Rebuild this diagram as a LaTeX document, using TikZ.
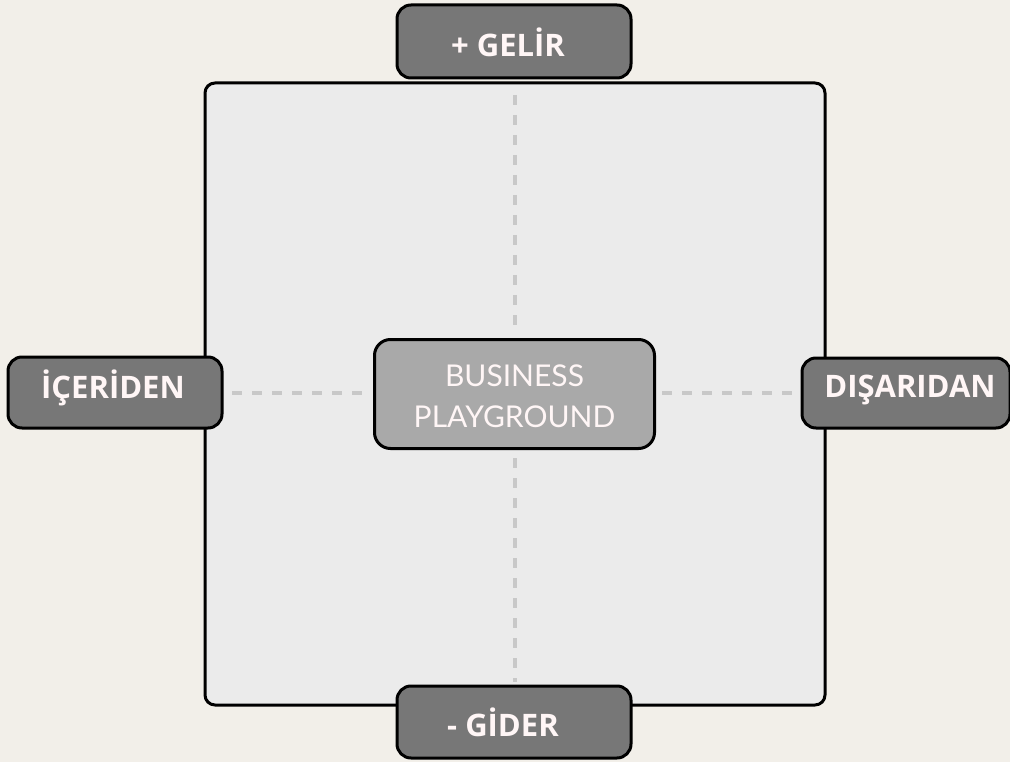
\documentclass[tikz,border=0pt]{standalone}
\usepackage{fontspec}
\setmainfont{Open Sans}
\newfontfamily\lightfont{Lato}
\begin{document}
\begin{tikzpicture}[x=1pt,y=-1pt,
  tab/.style={draw=black, line width=3pt, fill=tabgray, rounded corners=14pt, text=tabtext, font=\fontsize{31}{34}\selectfont\bfseries, inner sep=0pt},
  tablabel/.style={text=tabtext, font=\fontsize{31}{34}\selectfont\bfseries, inner sep=0pt},
  guide/.style={draw=guidegray, line width=4pt, dash pattern=on 10pt off 10pt},
]
\definecolor{bg}{HTML}{F2EFE9}
\definecolor{tabgray}{HTML}{777777}
\definecolor{tabtext}{HTML}{FFF6F6}
\definecolor{boardgray}{HTML}{EBEBEB}
\definecolor{centergray}{HTML}{A9A9A9}
\definecolor{guidegray}{HTML}{C8C8C8}
\useasboundingbox (0,0) rectangle (1010,762);
\fill[bg] (0,0) rectangle (1010,762);
\node[draw=black, line width=3pt, fill=boardgray, rounded corners=10pt, minimum width=620pt, minimum height=622pt, inner sep=0pt] (board) at (515,394) {};
\coordinate (topA) at (515,95);
\coordinate (topB) at (515,333);
\coordinate (botA) at (515,458);
\coordinate (botB) at (515,682);
\coordinate (leftA) at (232,393);
\coordinate (leftB) at (368,393);
\coordinate (rightA) at (662,393);
\coordinate (rightB) at (796,393);
\draw[guide] (topA) -- (topB);
\draw[guide] (botA) -- (botB);
\draw[guide] (leftA) -- (leftB);
\draw[guide] (rightA) -- (rightB);
\node[draw=black, line width=3pt, fill=centergray, rounded corners=16pt, minimum width=280pt, minimum height=109pt, inner sep=0pt] (center) at (514.5,394) {};
\node[inner sep=0pt, align=center, text=tabtext, font=\lightfont\fontsize{30}{41}\selectfont] (centert) at (514.5,396) {BUSINESS\\PLAYGROUND};
\node[tab, minimum width=234pt, minimum height=73pt] (gelir) at (514,41.5) {};
\node[tablabel] (gelirt) at (508,42) {+ GELİR};
\node[tab, minimum width=234pt, minimum height=72pt] (gider) at (514,722) {};
\node[tablabel] (gidert) at (503,722) {- GİDER};
\node[tab, minimum width=214pt, minimum height=71pt] (iceriden) at (115,392.5) {};
\node[tablabel] (icerident) at (113,388) {İÇERİDEN};
\node[tab, minimum width=208pt, minimum height=70pt] (disaridan) at (906,393) {};
\node[tablabel] (disaridant) at (910,390) {DIŞARIDAN};
\end{tikzpicture}
\end{document}
